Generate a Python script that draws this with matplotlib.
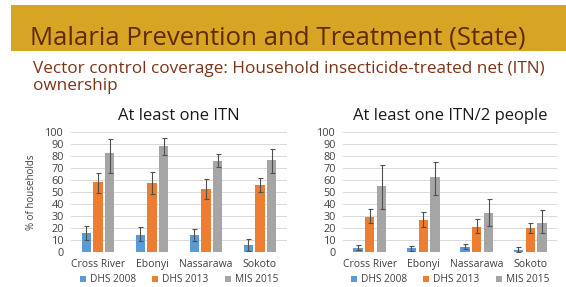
import matplotlib
matplotlib.use("Agg")
import matplotlib.pyplot as plt
import numpy as np
from matplotlib.patches import Rectangle

# ---- data ----
states = ["Cross River", "Ebonyi", "Nassarawa", "Sokoto"]
series = ["DHS 2008", "DHS 2013", "MIS 2015"]

one_itn = {
    "DHS 2008": [15.5, 14.5, 14, 5.8],
    "DHS 2013": [58, 57.5, 52.5, 55.5],
    "MIS 2015": [82.5, 88.5, 76, 77],
}
one_itn_lo = {
    "DHS 2008": [10, 9, 9, 1],
    "DHS 2013": [49, 48, 44, 50],
    "MIS 2015": [66, 80.5, 71, 66],
}
one_itn_hi = {
    "DHS 2008": [21.5, 20.5, 19, 11],
    "DHS 2013": [66, 66.5, 61, 61.5],
    "MIS 2015": [94, 95, 81.5, 85.5],
}

two_ppl = {
    "DHS 2008": [3.4, 3.0, 4.2, 1.4],
    "DHS 2013": [29.5, 26.8, 21.2, 19.8],
    "MIS 2015": [55, 62.5, 32.8, 23.8],
}
two_ppl_lo = {
    "DHS 2008": [1.5, 1.2, 2.2, 0],
    "DHS 2013": [24, 21, 16, 16],
    "MIS 2015": [35.5, 47.5, 22, 15.5],
}
two_ppl_hi = {
    "DHS 2008": [5.8, 5.2, 6.6, 3.8],
    "DHS 2013": [35.8, 33.2, 27.5, 24],
    "MIS 2015": [72.5, 75, 44.2, 34.6],
}

yticks = list(range(0, 101, 10))
colors = {"DHS 2008": "#5B9BD5", "DHS 2013": "#ED7D31", "MIS 2015": "#A5A5A5"}

W, H = 566, 287
fig = plt.figure(figsize=(W / 100, H / 100), dpi=100)
fig.patch.set_facecolor("white")

# header band
fig.patches.append(Rectangle((11 / W, 1 - 51 / H), 1 - 11 / W, 46 / H,
                             transform=fig.transFigure, facecolor="#D8A424",
                             edgecolor="none", zorder=0))
fig.text(30 / W, 1 - 38 / H, "Malaria Prevention and Treatment (State)",
         fontsize=18.5, color="#5E2A08", family="Open Sans", va="center", ha="left")
fig.text(33 / W, 1 - 69 / H,
         "Vector control coverage: Household insecticide-treated net (ITN)",
         fontsize=12.3, color="#7A3318", family="Open Sans", va="center", ha="left")
fig.text(33 / W, 1 - 86 / H, "ownership",
         fontsize=12.3, color="#7A3318", family="Open Sans", va="center", ha="left")


def panel(left_px, right_px, title, vals, lo, hi, ylabel=None):
    ax = fig.add_axes([left_px / W, (H - 252) / H, (right_px - left_px) / W, 120 / H])
    x = np.arange(len(states))
    bw = 0.17
    off = 0.22
    for i, s in enumerate(series):
        v = np.array(vals[s])
        err = np.array([v - np.array(lo[s]), np.array(hi[s]) - v])
        ax.bar(x + (i - 1) * off, v, width=bw, color=colors[s], label=s, zorder=2)
        ax.errorbar(x + (i - 1) * off, v, yerr=err, fmt="none", ecolor="#505050",
                    elinewidth=0.8, capsize=1.8, capthick=0.8, zorder=3)
    ax.set_xlim(-0.5, len(states) - 0.5)
    ax.set_ylim(0, 100)
    ax.set_yticks(yticks)
    ax.set_yticklabels([str(t) for t in yticks])
    ax.set_xticks(x)
    ax.set_xticklabels(states)
    ax.tick_params(axis="y", length=0, labelsize=7.8, labelcolor="#404040", pad=5)
    ax.tick_params(axis="x", length=0, labelsize=7.5, labelcolor="#404040", pad=5)
    for lab in ax.get_xticklabels() + ax.get_yticklabels():
        lab.set_family("Open Sans")
    ax.grid(axis="y", color="#D9D9D9", linewidth=0.7, zorder=0)
    ax.set_axisbelow(True)
    for sp in ax.spines.values():
        sp.set_visible(False)
    ax.set_title(title, fontsize=12, color="#1A1A1A", family="Open Sans", pad=9)
    if ylabel:
        ax.set_ylabel(ylabel, fontsize=7, color="#404040", family="Open Sans", labelpad=6)
    leg = ax.legend(loc="upper center", bbox_to_anchor=(0.5, -0.11), ncol=3,
                    frameon=False, handlelength=0.6, handleheight=0.6,
                    handletextpad=0.4, columnspacing=1.6,
                    prop={"family": "Open Sans", "size": 7.3})
    for t in leg.get_texts():
        t.set_color("#404040")
    return ax


panel(71, 287, "At least one ITN", one_itn, one_itn_lo, one_itn_hi, ylabel="% of households")
panel(343, 557, "At least one ITN/2 people", two_ppl, two_ppl_lo, two_ppl_hi)

fig.savefig("out.png", dpi=100)
